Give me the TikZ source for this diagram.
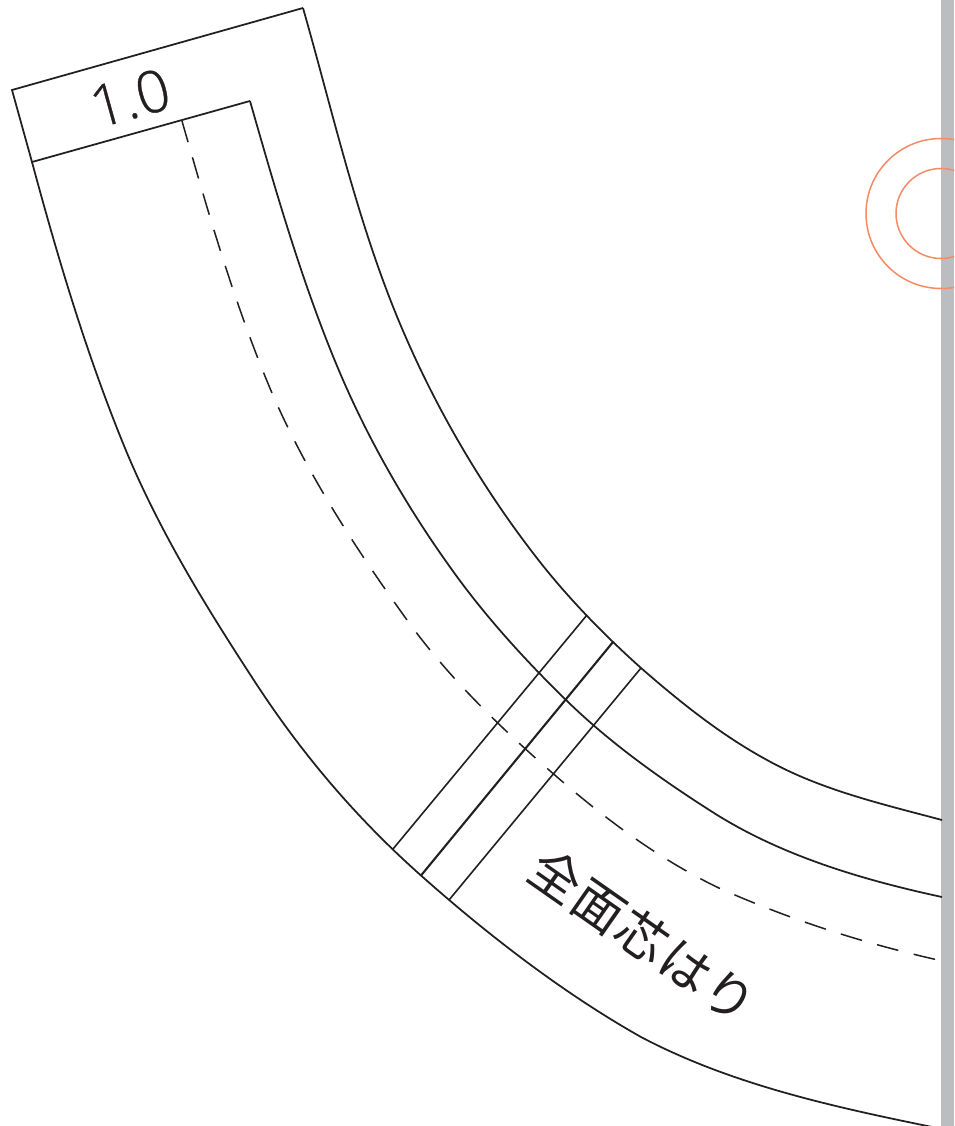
\documentclass[tikz,border=0pt]{standalone}
\usepackage{fontspec}
\newfontfamily\cjk{Noto Sans CJK JP}[LetterSpace=3]
\newfontfamily\lat{Open Sans}[UprightFont={* Light},RawFeature={embolden=0.6}]
\definecolor{ink}{HTML}{231F20}
\definecolor{bar}{HTML}{BCBDC1}
\definecolor{ring}{HTML}{F58A64}
\tikzset{
  seam/.style={draw=ink,line width=1.75pt,line join=miter},
  cross/.style={draw=ink,line width=1.6pt},
  crossbold/.style={draw=ink,line width=2.1pt},
  stitch/.style={draw=ink,line width=1.5pt,dash pattern=on 22pt off 15.8pt},
  ringline/.style={draw=ring,line width=1.5pt}
}
\begin{document}
\begin{tikzpicture}[x=1pt,y=-1pt]
\useasboundingbox (0,0) rectangle (954,1126);
\fill[white] (0,0) rectangle (954,1126);
\fill[bar] (941,0) rectangle (954,1126);
\begin{scope}
\clip (0,0) rectangle (954,1126);
\draw[ringline] (941,213.5) circle[radius=75];
\draw[ringline] (941,213.5) circle[radius=45];
\draw[seam] (303,8) .. controls (335,120) and (360,234) .. (407,340)
  .. controls (440,415) and (483,488) .. (533,553)
  .. controls (565,595) and (602,633) .. (641,668)
  .. controls (680,702) and (721,735) .. (767,760)
  .. controls (821,790) and (882,804) .. (942,820);
\draw[seam] (250,101) .. controls (276,192) and (303,286) .. (340,373)
  .. controls (369,441) and (407,507) .. (450,567)
  .. controls (484,615) and (524,659) .. (566,700)
  .. controls (610,743) and (662,780) .. (714,813)
  .. controls (782,856) and (863,880) .. (942,897);
\draw[seam] (32,162) .. controls (58.5,260.5) and (88,359) .. (127,453)
  .. controls (162,536) and (208,610) .. (257,685)
  .. controls (301,752) and (354,816) .. (421,875.5)
  .. controls (488,935) and (563,993) .. (641,1037)
  .. controls (734,1086) and (839,1108) .. (942,1129);
\draw[stitch] (182,121) .. controls (208,212) and (235,306) .. (272,393)
  .. controls (307,474) and (356,549) .. (407,620)
  .. controls (451,681) and (507,734) .. (564,783)
  .. controls (612,824) and (664,862) .. (721,889)
  .. controls (794,921) and (863,943) .. (938,960);
\end{scope}
\coordinate (a1) at (303,8);
\coordinate (a2) at (12,90);
\coordinate (b1) at (250,101);
\coordinate (b2) at (32,162);
\coordinate (t1) at (587,615);
\coordinate (t2) at (613,642);
\coordinate (t3) at (641,668);
\coordinate (u1) at (393,849);
\coordinate (u2) at (421,875.5);
\coordinate (u3) at (449,900);
\draw[seam] (b1) -- (b2) -- (a2) -- (a1);
\draw[cross] (t1) -- (u1);
\draw[crossbold] (t2) -- (u2);
\draw[cross] (t3) -- (u3);
\node[rotate=15.5,text=ink,inner sep=0pt] (num) at (130,98) {\lat\fontsize{58}{58}\selectfont 1.0};
\node[rotate=-35,text=ink,inner sep=0pt] (label) at (643,936) {\cjk\fontsize{51}{51}\selectfont 全面芯はり};
\end{tikzpicture}
\end{document}
